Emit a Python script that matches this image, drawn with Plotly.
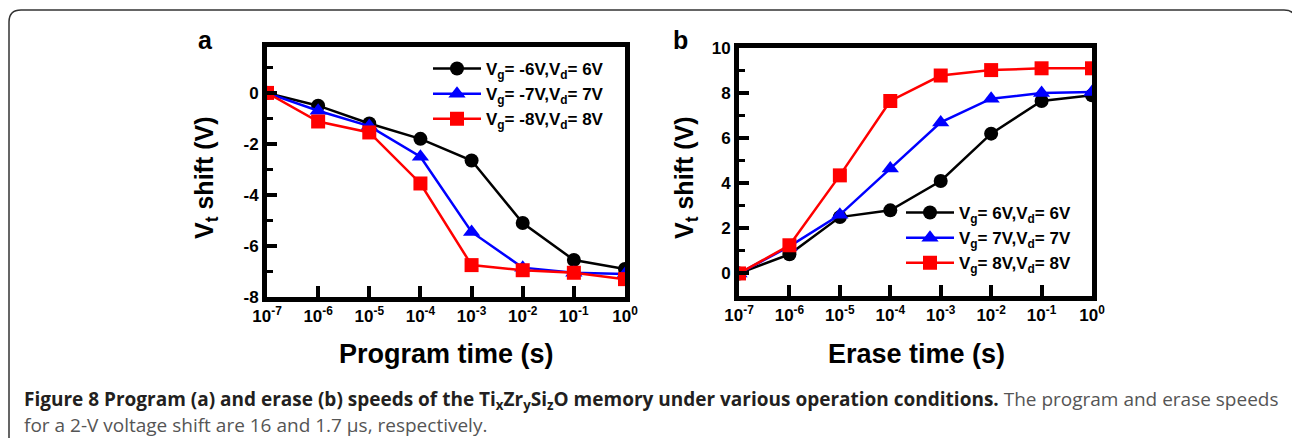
import plotly.graph_objects as go

W, H = 1292, 438

# ---------------- data ----------------
time_s = [1e-7, 1e-6, 1e-5, 1e-4, 1e-3, 1e-2, 1e-1, 1e0]
tick_labels = ["10<sup>-7</sup>", "10<sup>-6</sup>", "10<sup>-5</sup>", "10<sup>-4</sup>",
               "10<sup>-3</sup>", "10<sup>-2</sup>", "10<sup>-1</sup>", "10<sup>0</sup>"]

prog_yticks = [-8, -6, -4, -2, 0]
prog_ylabels = ["-8", "-6", "-4", "-2", "0"]
erase_yticks = [0, 2, 4, 6, 8, 10]
erase_ylabels = ["0", "2", "4", "6", "8", "10"]

prog_6v = [0, -0.5, -1.2, -1.8, -2.65, -5.1, -6.55, -6.9]
prog_7v = [0, -0.7, -1.3, -2.5, -5.45, -6.85, -7.05, -7.1]
prog_8v = [0, -1.12, -1.55, -3.55, -6.75, -6.95, -7.05, -7.3]

erase_6v = [0, 0.85, 2.5, 2.8, 4.1, 6.2, 7.65, 7.9]
erase_7v = [0, 1.2, 2.6, 4.65, 6.7, 7.75, 8.0, 8.05]
erase_8v = [0, 1.25, 4.35, 7.65, 8.78, 9.02, 9.1, 9.1]

prog_names = ["V<sub>g</sub>= -6V,V<sub>d</sub>= 6V",
              "V<sub>g</sub>= -7V,V<sub>d</sub>= 7V",
              "V<sub>g</sub>= -8V,V<sub>d</sub>= 8V"]
erase_names = ["V<sub>g</sub>= 6V,V<sub>d</sub>= 6V",
               "V<sub>g</sub>= 7V,V<sub>d</sub>= 7V",
               "V<sub>g</sub>= 8V,V<sub>d</sub>= 8V"]

colors = ["#000000", "#0000ff", "#ff0000"]
symbols = ["circle", "triangle-up", "square"]

FONT = "Liberation Sans, Arial, sans-serif"


def px(x):
    return x / W


def py(y):
    return 1 - y / H


fig = go.Figure()

for vals, name, c, s in zip([prog_6v, prog_7v, prog_8v], prog_names, colors, symbols):
    fig.add_trace(go.Scatter(x=time_s, y=vals, name=name, mode="lines+markers",
                             line=dict(color=c, width=2.5),
                             marker=dict(color=c, symbol=s, size=14 if s != "triangle-up" else 15),
                             xaxis="x", yaxis="y", legend="legend"))

for vals, name, c, s in zip([erase_6v, erase_7v, erase_8v], erase_names, colors, symbols):
    fig.add_trace(go.Scatter(x=time_s, y=vals, name=name, mode="lines+markers",
                             line=dict(color=c, width=2.5),
                             marker=dict(color=c, symbol=s, size=14 if s != "triangle-up" else 15),
                             xaxis="x2", yaxis="y2", legend="legend2"))

tickfont = dict(family=FONT, size=17, color="black", weight="bold")

xcommon = dict(type="log", range=[-7, 0], tickmode="array", tickvals=time_s, ticktext=tick_labels,
               ticks="inside", ticklen=11, tickwidth=4, tickcolor="black",
               showline=True, linewidth=5, linecolor="black", mirror=True,
               showgrid=False, zeroline=False, tickfont=tickfont, automargin=False)
ycommon = dict(ticks="inside", ticklen=10, tickwidth=4, tickcolor="black", tickmode="array",
               showline=True, linewidth=5, linecolor="black", mirror=True,
               showgrid=False, zeroline=False, tickfont=tickfont, automargin=False,
               minor=dict(ticks="inside", dtick=1, tick0=0, ticklen=6, tickwidth=3, tickcolor="black"))

legfont = dict(family=FONT, size=17, color="black", weight="bold")

fig.update_layout(
    width=W, height=H,
    margin=dict(l=0, r=0, t=0, b=0, pad=0, autoexpand=False),
    paper_bgcolor="white", plot_bgcolor="white",
    font=dict(family=FONT, color="black"),
    xaxis=dict(domain=[px(267), px(625)], anchor="y", **xcommon),
    yaxis=dict(domain=[py(297), py(47)], anchor="x", range=[-8, 1.8],
               tickvals=prog_yticks, ticktext=prog_ylabels, **ycommon),
    xaxis2=dict(domain=[px(739), px(1092)], anchor="y2", **xcommon),
    yaxis2=dict(domain=[py(296), py(48)], anchor="x2", range=[-1, 10],
                tickvals=erase_yticks, ticktext=erase_ylabels, **ycommon),
    legend=dict(x=px(428), y=py(51), xanchor="left", yanchor="top", bgcolor="rgba(0,0,0,0)",
                font=legfont, tracegroupgap=0, itemwidth=48),
    legend2=dict(x=px(901), y=py(195), xanchor="left", yanchor="top", bgcolor="rgba(0,0,0,0)",
                 font=legfont, tracegroupgap=0, itemwidth=48),
    showlegend=True,
)

annos = []
title_font = dict(family=FONT, size=25, color="black", weight="bold")
xtitle_font = dict(family=FONT, size=27, color="black", weight="bold")
annos.append(dict(text="a", x=px(205), y=py(40), xref="paper", yref="paper", showarrow=False,
                  font=title_font, xanchor="center", yanchor="middle"))
annos.append(dict(text="b", x=px(680), y=py(40), xref="paper", yref="paper", showarrow=False,
                  font=title_font, xanchor="center", yanchor="middle"))
annos.append(dict(text="V<sub>t</sub> shift (V)", x=px(206), y=py(178), xref="paper", yref="paper",
                  showarrow=False, textangle=-90, font=title_font, xanchor="center", yanchor="middle"))
annos.append(dict(text="V<sub>t</sub> shift (V)", x=px(686), y=py(178), xref="paper", yref="paper",
                  showarrow=False, textangle=-90, font=title_font, xanchor="center", yanchor="middle"))
annos.append(dict(text="Program time (s)", x=px(446), y=py(354), xref="paper", yref="paper",
                  showarrow=False, font=xtitle_font, xanchor="center", yanchor="middle"))
annos.append(dict(text="Erase time (s)", x=px(916), y=py(354), xref="paper", yref="paper",
                  showarrow=False, font=xtitle_font, xanchor="center", yanchor="middle"))

cap_font = "Open Sans, sans-serif"
annos.append(dict(
    text=("<b>Figure 8 Program (a) and erase (b) speeds of the Ti<sub>x</sub>Zr<sub>y</sub>Si<sub>z</sub>O "
          "memory under various operation conditions.</b> "
          "<span style='color:#555555'>The program and erase speeds</span>"),
    x=px(22), y=py(400), xref="paper", yref="paper", showarrow=False, xanchor="left", yanchor="middle",
    font=dict(family=cap_font, size=19, color="#231f20")))
annos.append(dict(
    text="for a 2-V voltage shift are 16 and 1.7 μs, respectively.",
    x=px(22), y=py(425), xref="paper", yref="paper", showarrow=False, xanchor="left", yanchor="middle",
    font=dict(family=cap_font, size=19, color="#555555")))
fig.update_layout(annotations=annos)

# outer rounded frame
r = 12
x0, y0, x1 = px(9), py(10), px(1296)
path = (f"M {x0},{py(445)} L {x0},{py(10 + r)} Q {x0},{y0} {px(9 + r)},{y0} "
        f"L {px(1296 - r)},{y0} Q {x1},{y0} {x1},{py(10 + r)} L {x1},{py(445)}")
fig.add_shape(type="path", path=path, xref="paper", yref="paper",
              line=dict(color="#333333", width=1.5))

fig.write_html("out.html")
